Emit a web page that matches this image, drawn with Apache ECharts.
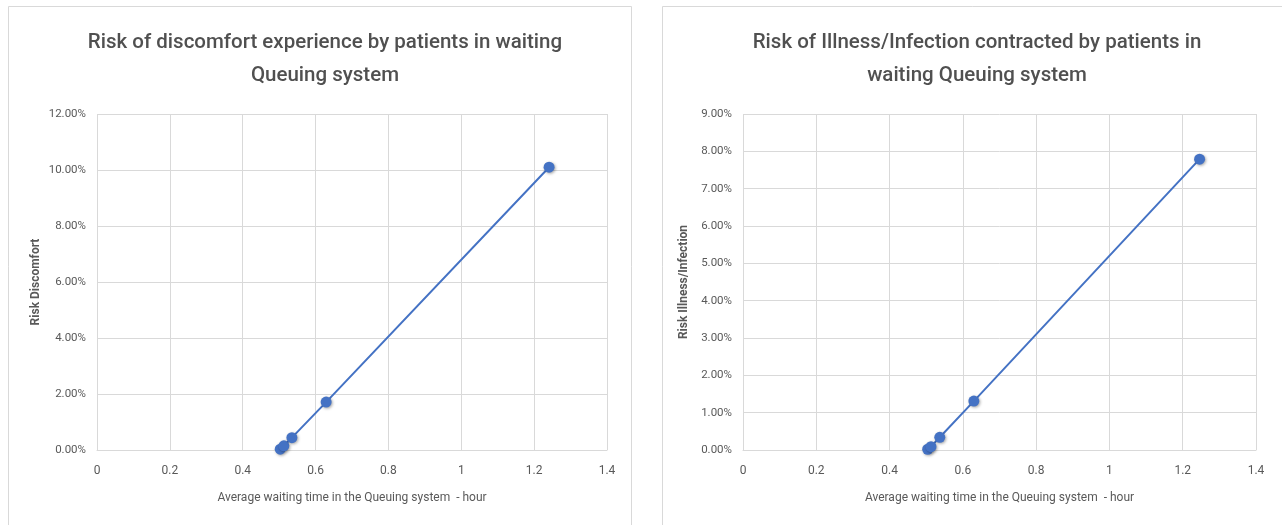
<!DOCTYPE html>
<html>
<head>
<meta charset="utf-8">
<script src="https://cdn.jsdelivr.net/npm/echarts@6/dist/echarts.min.js"></script>
<style>
  html, body { margin: 0; padding: 0; background: #ffffff; }
  #chart { width: 1282px; height: 525px; }
</style>
</head>
<body>
<div id="chart"></div>
<script>
// Average waiting time (hours) vs. risk (%) for two outcomes
const discomfortTime = [0.503, 0.513, 0.535, 0.629, 1.241];
const discomfortRisk = [0.0003, 0.0015, 0.0044, 0.0171, 0.1010];
const illnessTime = [0.504, 0.513, 0.537, 0.630, 1.246];
const illnessRisk = [0.0002, 0.0009, 0.0034, 0.0131, 0.0779];

const xTicks = [0, 0.2, 0.4, 0.6, 0.8, 1, 1.2, 1.4];
const leftTitle = 'Risk of discomfort experience by patients in waiting\nQueuing system';
const rightTitle = 'Risk of Illness/Infection contracted by patients in\nwaiting Queuing system';
const xName = 'Average waiting time in the Queuing system  - hour';
const leftYName = 'Risk Discomfort';
const rightYName = 'Risk Illness/Infection';

const FONT = '"Liberation Sans Narrow", "Roboto", sans-serif';
const TEXT = '#595959';
const GRID = '#d9d9d9';
const BLUE = '#4472C4';

const pairs = (xs, ys) => xs.map((x, i) => [x, ys[i]]);

function xAxis(gridIndex) {
  return {
    type: 'value', gridIndex, min: 0, max: 1.4, interval: 0.2,
    name: xName, nameLocation: 'middle', nameGap: 42,
    nameTextStyle: { fontFamily: FONT, fontSize: 12, color: TEXT },
    axisLine: { show: true, lineStyle: { color: GRID } },
    axisTick: { show: false },
    splitLine: { show: true, lineStyle: { color: GRID, width: 1 } },
    axisLabel: {
      fontFamily: FONT, fontSize: 12, color: TEXT, margin: 15,
      formatter: v => { const t = xTicks.find(k => Math.abs(k - v) < 1e-9); return t === undefined ? '' : String(t); }
    }
  };
}

function yAxis(gridIndex, max, interval, name, gap) {
  return {
    type: 'value', gridIndex, min: 0, max, interval,
    name, nameLocation: 'middle', nameGap: gap, nameRotate: 90,
    nameTextStyle: { fontFamily: FONT, fontSize: 12, fontWeight: 'bold', color: TEXT },
    axisLine: { show: false }, axisTick: { show: false },
    splitLine: { show: true, lineStyle: { color: GRID, width: 1 } },
    axisLabel: {
      fontFamily: FONT, fontSize: 11.5, color: TEXT, margin: 11,
      formatter: v => (v * 100).toFixed(2) + '%'
    }
  };
}

function series(idx, data) {
  return {
    type: 'line', xAxisIndex: idx, yAxisIndex: idx, data,
    symbol: 'circle', symbolSize: 11,
    lineStyle: { color: BLUE, width: 2 },
    itemStyle: { color: BLUE, shadowBlur: 3, shadowColor: 'rgba(0,0,0,0.35)', shadowOffsetX: 1, shadowOffsetY: 1 },
    z: 3, animation: false
  };
}

const chart = echarts.init(document.getElementById('chart'), null, { renderer: 'canvas' });
chart.setOption({
  backgroundColor: '#ffffff',
  animation: false,
  graphic: [
    { type: 'rect', shape: { x: 8.5, y: 6.5, width: 623, height: 530 }, style: { fill: 'none', stroke: '#d9d9d9', lineWidth: 1 }, z: -1 },
    { type: 'rect', shape: { x: 662.5, y: 6.5, width: 630, height: 530 }, style: { fill: 'none', stroke: '#d9d9d9', lineWidth: 1 }, z: -1 }
  ],
  title: [
    { text: leftTitle, left: 320, top: 21, textAlign: 'center',
      textStyle: { fontFamily: FONT, fontSize: 20.5, fontWeight: 500, color: '#505050', lineHeight: 33 } },
    { text: rightTitle, left: 972, top: 21, textAlign: 'center',
      textStyle: { fontFamily: FONT, fontSize: 20.5, fontWeight: 500, color: '#505050', lineHeight: 33 } }
  ],
  grid: [
    { left: 97, top: 114, width: 510, height: 336, containLabel: false },
    { left: 743, top: 114, width: 513, height: 336, containLabel: false }
  ],
  xAxis: [xAxis(0), xAxis(1)],
  yAxis: [yAxis(0, 0.12, 0.02, leftYName, 55), yAxis(1, 0.09, 0.01, rightYName, 53)],
  series: [series(0, pairs(discomfortTime, discomfortRisk)), series(1, pairs(illnessTime, illnessRisk))]
});
</script>
</body>
</html>
